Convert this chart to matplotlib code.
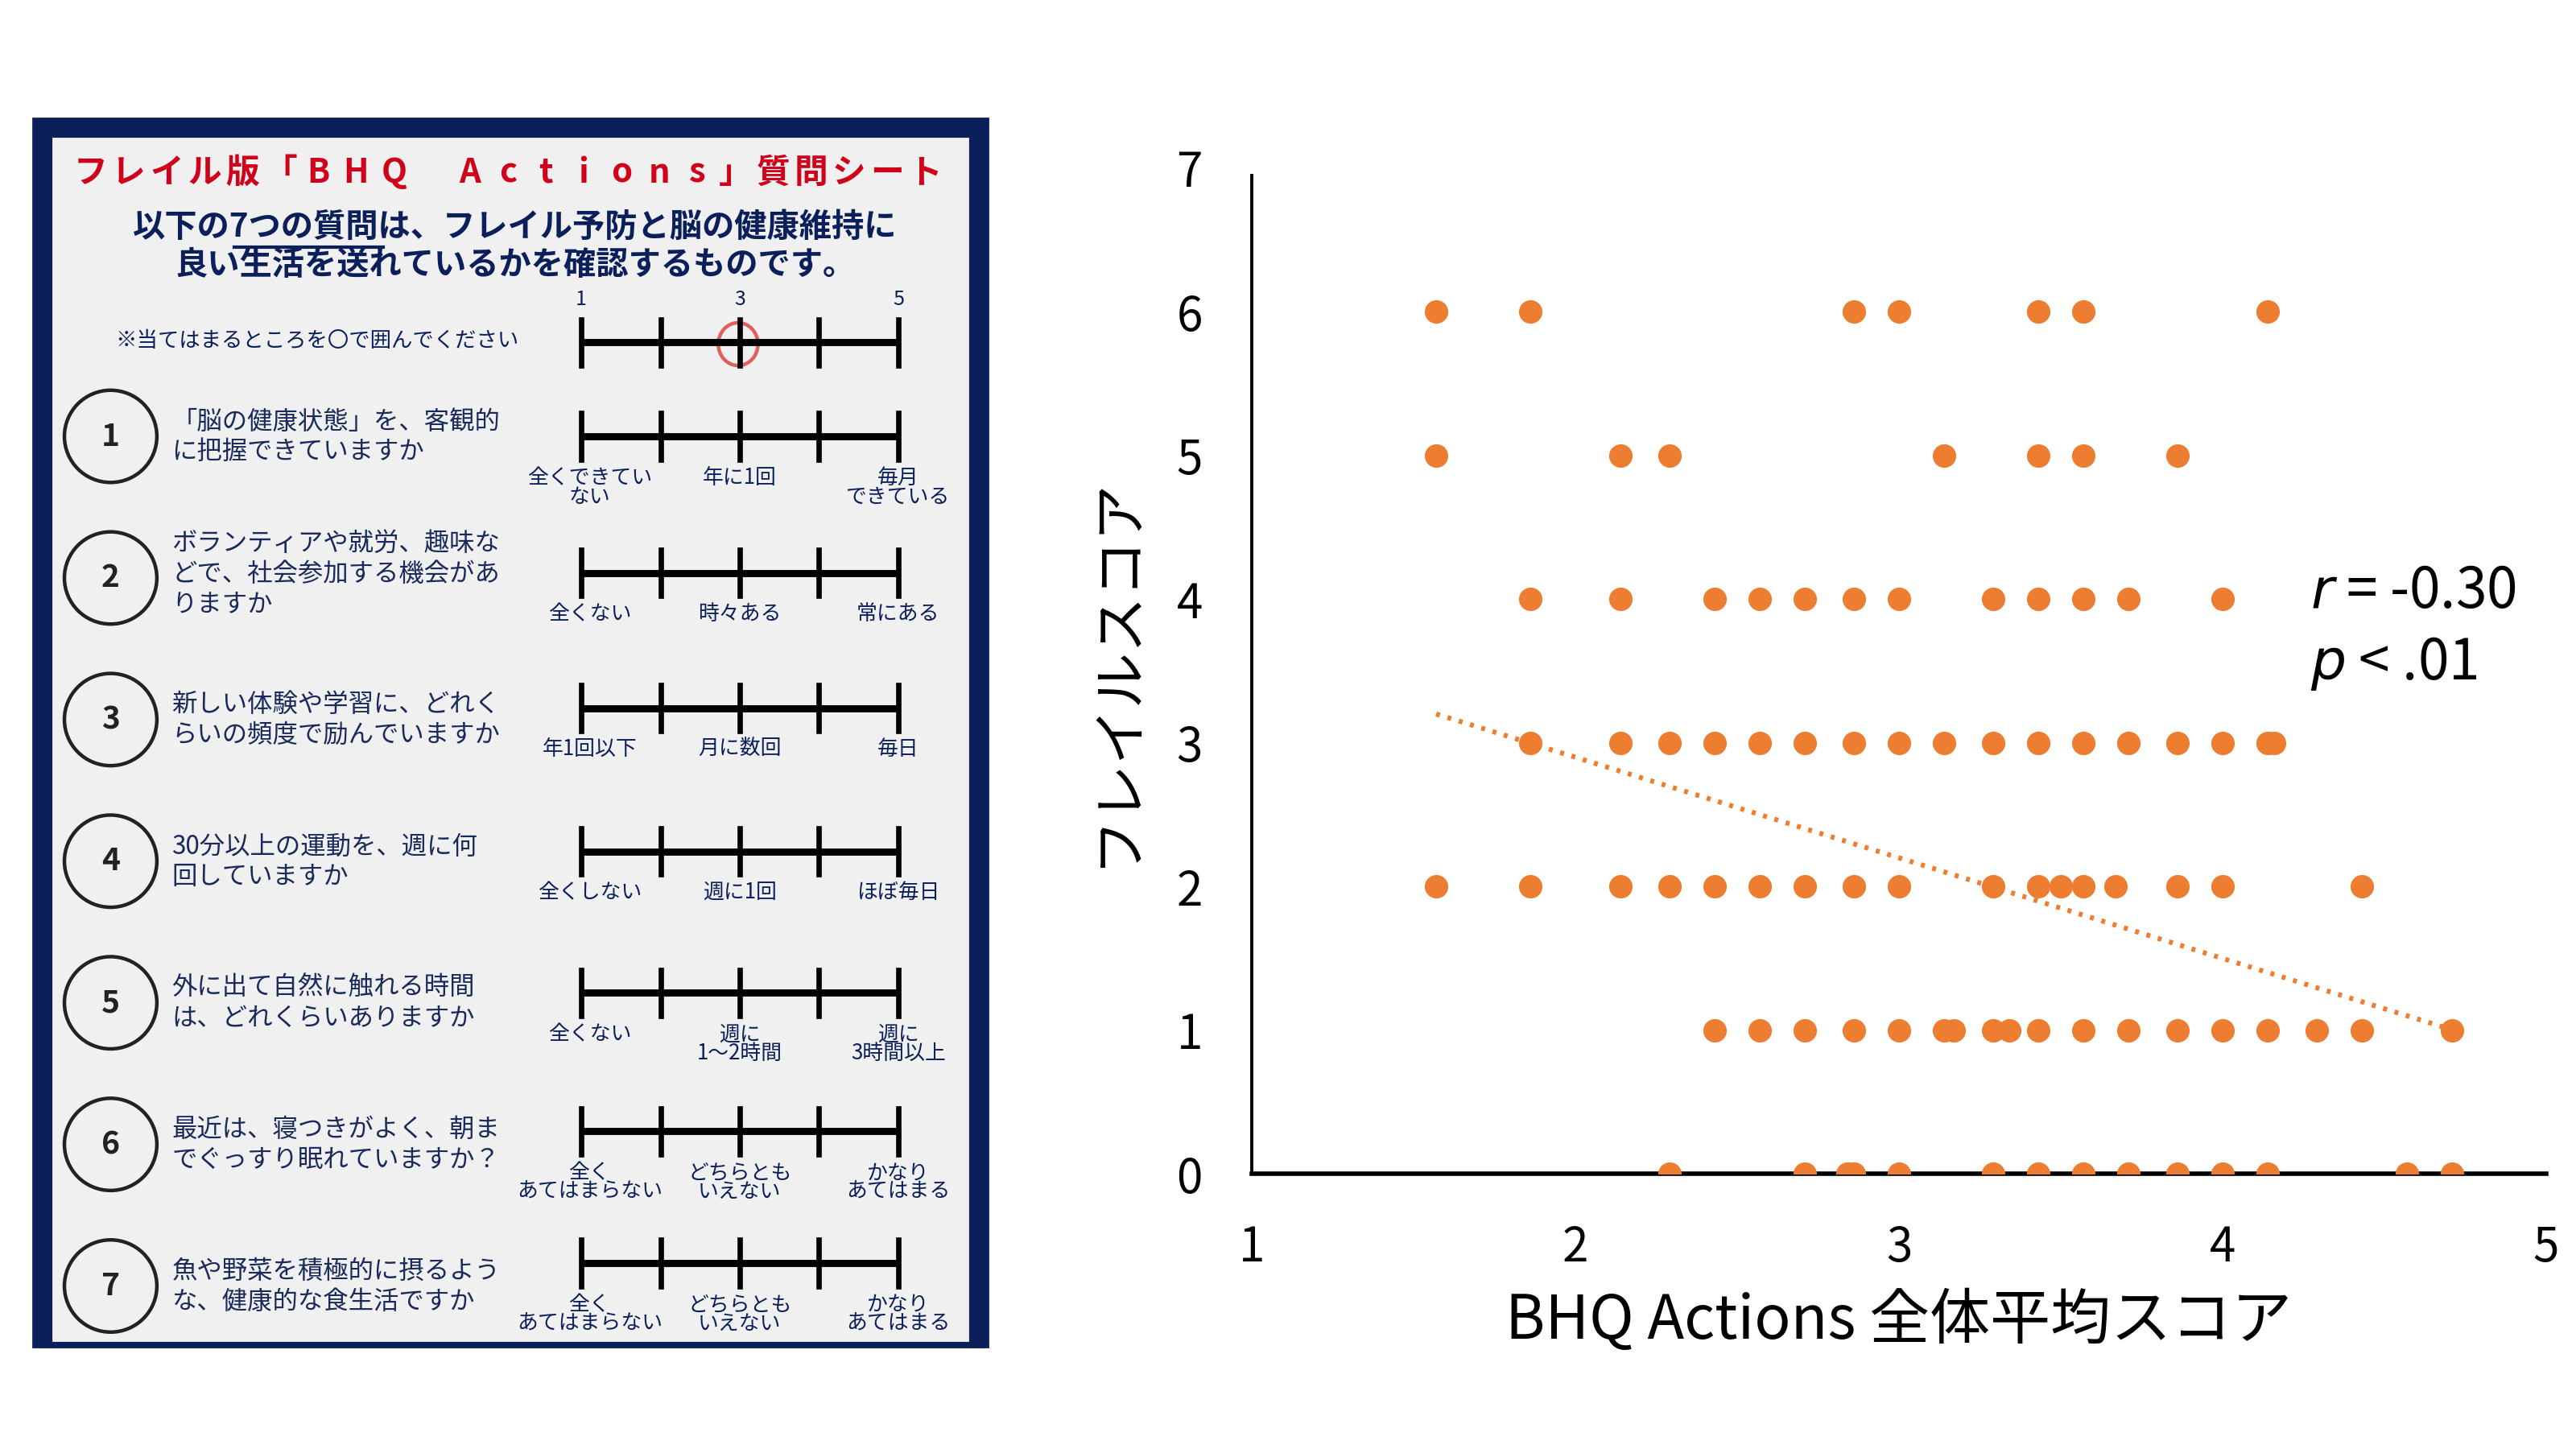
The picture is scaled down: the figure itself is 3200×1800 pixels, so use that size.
import matplotlib.pyplot as plt
import numpy as np
from matplotlib.patches import Circle, Ellipse, Rectangle

plt.rcParams["font.family"] = ["Noto Sans CJK JP", "DejaVu Sans"]

ORANGE = "#ED7D31"
NAVY = "#0B1F5B"

# scatter data: frailty score per row, BHQ Actions mean score
rows = {
    6: [1.57, 1.86, 2.86, 3.00, 3.43, 3.57, 4.14],
    5: [1.57, 2.14, 2.29, 3.14, 3.43, 3.57, 3.86],
    4: [1.86, 2.14, 2.43, 2.57, 2.71, 2.86, 3.00, 3.29, 3.43, 3.57, 3.71, 4.00],
    3: [1.86, 2.14, 2.29, 2.43, 2.57, 2.71, 2.86, 3.00, 3.14, 3.29, 3.43, 3.57,
        3.71, 3.86, 4.00, 4.14, 4.16],
    2: [1.57, 1.86, 2.14, 2.29, 2.43, 2.57, 2.71, 2.86, 3.00, 3.29, 3.43, 3.50,
        3.57, 3.67, 3.86, 4.00, 4.43],
    1: [2.43, 2.57, 2.71, 2.86, 3.00, 3.14, 3.17, 3.29, 3.34, 3.43, 3.57, 3.71,
        3.86, 4.00, 4.14, 4.29, 4.43, 4.71],
    0: [2.29, 2.71, 2.84, 2.86, 3.00, 3.29, 3.43, 3.57, 3.71, 3.86, 4.00, 4.14,
        4.57, 4.71],
}
# trendline as drawn in the source chart (all respondents)
trend_slope = -0.70
trend_intercept = 4.30
x_ticks = [1, 2, 3, 4, 5]
y_ticks = [0, 1, 2, 3, 4, 5, 6, 7]

# questionnaire content
title = "フレイル版「BHQ Actions」質問シート"
questions = [
    ["「脳の健康状態」を、客観的", "に把握できていますか"],
    ["ボランティアや就労、趣味な", "どで、社会参加する機会があ", "りますか"],
    ["新しい体験や学習に、どれく", "らいの頻度で励んでいますか"],
    ["30分以上の運動を、週に何", "回していますか"],
    ["外に出て自然に触れる時間", "は、どれくらいありますか"],
    ["最近は、寝つきがよく、朝ま", "でぐっすり眠れていますか？"],
    ["魚や野菜を積極的に摂るよう", "な、健康的な食生活ですか"],
]
anchors = [
    ["全くできてい\nない", "年に1回", "毎月\nできている"],
    ["全くない", "時々ある", "常にある"],
    ["年1回以下", "月に数回", "毎日"],
    ["全くしない", "週に1回", "ほぼ毎日"],
    ["全くない", "週に\n1～2時間", "週に\n3時間以上"],
    ["全く\nあてはまらない", "どちらとも\nいえない", "かなり\nあてはまる"],
    ["全く\nあてはまらない", "どちらとも\nいえない", "かなり\nあてはまる"],
]

fig = plt.figure(figsize=(16, 9), dpi=200)

# ---- left panel: questionnaire sheet drawn in display pixel coords ----
bg = fig.add_axes([0, 0, 1, 1])
bg.set_xlim(0, 1560)
bg.set_ylim(880, 0)
bg.axis("off")
bg.add_patch(Rectangle((20, 72), 578, 746, color=NAVY))
bg.add_patch(Rectangle((32, 84), 554, 730, color="#F0F0F0"))

chars = list(title)
for i, ch in enumerate(chars):
    cx = 55 + i * (505 / (len(chars) - 1))
    bg.text(cx, 105, ch, color="#D0021B", fontsize=15, fontweight="bold",
            ha="center", va="center")
bg.text(312, 138, "以下の7つの質問は、フレイル予防と脳の健康維持に",
        color=NAVY, fontsize=14.5, fontweight="bold", ha="center", va="center")
bg.plot([142, 232], [150, 150], color=NAVY, lw=1.5)
bg.text(312, 161, "良い生活を送れているかを確認するものです。",
        color=NAVY, fontsize=14.5, fontweight="bold", ha="center", va="center")

tick_x = [352, 400, 448, 496, 544]


def draw_scale(y):
    bg.plot([tick_x[0], tick_x[-1]], [y, y], color="black", lw=3.2,
            solid_capstyle="butt")
    for tx in tick_x:
        bg.plot([tx, tx], [y - 14, y + 14], color="black", lw=2.4)


for tx, lab in zip([352, 448, 544], ["1", "3", "5"]):
    bg.text(tx, 182, lab, fontsize=9, ha="center", va="center", color=NAVY)
bg.text(192, 207, "※当てはまるところを〇で囲んでください", fontsize=9.5,
        ha="center", va="center", color=NAVY)
draw_scale(208)
bg.add_patch(Ellipse((447, 209), 24, 26, fill=False, ec="#E06060", lw=1.6))

scale_y = [265, 348, 430, 517, 603, 687, 767]
circle_y = [265, 351, 437, 523, 609, 695, 781]
for k in range(7):
    cy = circle_y[k]
    bg.add_patch(Circle((67, cy), 28, fill=False, ec="#222222", lw=1.6))
    bg.text(67, cy, str(k + 1), fontsize=14, fontweight="bold",
            ha="center", va="center", color="#222222")
    lines = questions[k]
    y0 = cy - 9 * (len(lines) - 1) - (3 if len(lines) == 3 else 0)
    for j, ln in enumerate(lines):
        bg.text(104, y0 + j * 18.5, ln, fontsize=11.3, ha="left", va="center",
                color="#1A2A5A")
    draw_scale(scale_y[k])
    for tx, lab in zip([357, 448, 544], anchors[k]):
        two = "\n" in lab
        bg.text(tx, scale_y[k] + (31 if two else 25), lab, fontsize=9.3,
                ha="center", va="center", color=NAVY, linespacing=0.85)

# ---- right panel: scatter ----
ax = fig.add_axes([758 / 1560, 1 - 713 / 880, 784 / 1560, 611 / 880])
xs = np.concatenate([np.array(v) for v in rows.values()])
ys = np.concatenate([np.full(len(v), k) for k, v in rows.items()])
ax.scatter(xs, ys, s=110, color=ORANGE, zorder=3, linewidths=0)

lx = np.array([xs.min(), xs.max()])
ax.plot(lx, trend_intercept + trend_slope * lx, color=ORANGE, lw=2.2,
        ls=(0, (0.8, 1.6)), zorder=2)

ax.set_xlim(1, 5)
ax.set_ylim(0, 7)
ax.set_xticks(x_ticks)
ax.set_yticks(y_ticks)
ax.tick_params(length=0, labelsize=21, pad=22)
for s in ["top", "right"]:
    ax.spines[s].set_visible(False)
ax.spines["left"].set_linewidth(1.4)
ax.spines["bottom"].set_linewidth(2)
ax.spines["left"].set_bounds(0, 6.95)
ax.set_xlabel("BHQ Actions 全体平均スコア", fontsize=27, labelpad=8)
ax.set_ylabel("フレイルスコア", fontsize=25, labelpad=14)
ax.text(4.27, 4.05, "$r$ = -0.30", fontsize=25, ha="left", va="center")
ax.text(4.27, 3.55, "$p$ < .01", fontsize=25, ha="left", va="center")

fig.savefig("out.png", dpi=200)
